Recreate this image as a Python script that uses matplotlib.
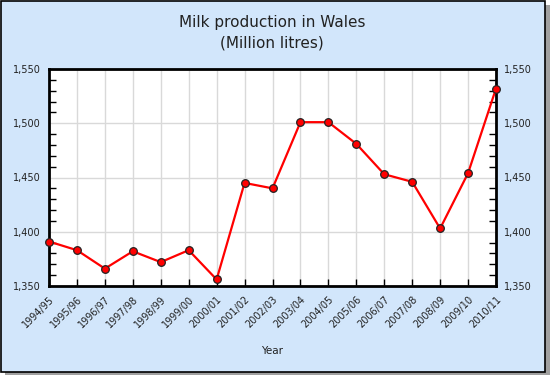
import matplotlib.pyplot as plt
from matplotlib.patches import Rectangle
from matplotlib.ticker import MultipleLocator, FuncFormatter

# Data
years = ['1994/95', '1995/96', '1996/97', '1997/98', '1998/99', '1999/00',
         '2000/01', '2001/02', '2002/03', '2003/04', '2004/05', '2005/06',
         '2006/07', '2007/08', '2008/09', '2009/10', '2010/11']
milk = [1391, 1383, 1366, 1382, 1372, 1383, 1356, 1445, 1440, 1501,
        1501, 1481, 1453, 1446, 1403, 1454, 1532]

W, H = 550, 375
fig = plt.figure(figsize=(W / 100, H / 100), dpi=100)
fig.patch.set_facecolor('white')

# drop shadow and light blue panel with black border (kept behind the axes)
fig.patches.append(Rectangle((5 / W, 0), 545 / W, 370 / H, transform=fig.transFigure,
                             facecolor='#a0a0a0', edgecolor='none', zorder=-2))
fig.patches.append(Rectangle((0.5 / W, 3 / H), 544 / W, 371.5 / H, transform=fig.transFigure,
                             facecolor='#d2e6fb', edgecolor='black', linewidth=1.2, zorder=-1))

ax = fig.add_axes([49 / W, 1 - 286 / H, 447 / W, 217 / H])
ax.set_facecolor('white')
x = list(range(len(years)))
ax.plot(x, milk, color='#ff0000', linewidth=1.6, marker='o', markersize=5.5,
        markerfacecolor='#ff0000', markeredgecolor='#222222', markeredgewidth=0.9,
        zorder=3, clip_on=False)

ax.set_xlim(0, len(years) - 1)
ax.set_ylim(1350, 1550)
ax.set_xticks(x)
ax.set_xticklabels(years, rotation=45, ha='right', rotation_mode='anchor')
ax.yaxis.set_major_locator(MultipleLocator(50))
ax.yaxis.set_minor_locator(MultipleLocator(10))
ax.yaxis.set_major_formatter(FuncFormatter(lambda v, p: f'{int(v):,}'))

ax.grid(True, which='major', color='#d9d9d9', linewidth=1)
ax.set_axisbelow(True)
for s in ax.spines.values():
    s.set_linewidth(2)
    s.set_color('black')

ax.tick_params(axis='y', which='both', direction='in', left=True, right=True,
               labelleft=True, labelright=True, labelsize=7, colors='black',
               labelcolor='#222222')
ax.tick_params(axis='y', which='major', length=0, pad=6)
ax.tick_params(axis='y', which='minor', length=5, width=1)
ax.tick_params(axis='x', direction='in', length=5, width=1, labelsize=7,
               labelcolor='#222222', pad=6, top=False)

fig.text(272 / W, 1 - 33 / H, 'Milk production in Wales\n(Million litres)',
         ha='center', va='center', fontsize=11, color='#222222', linespacing=1.45)
fig.text(272 / W, 1 - 351 / H, 'Year', ha='center', va='center',
         fontsize=7.5, color='#222222')

fig.savefig('out.png', dpi=100, facecolor=fig.get_facecolor())
